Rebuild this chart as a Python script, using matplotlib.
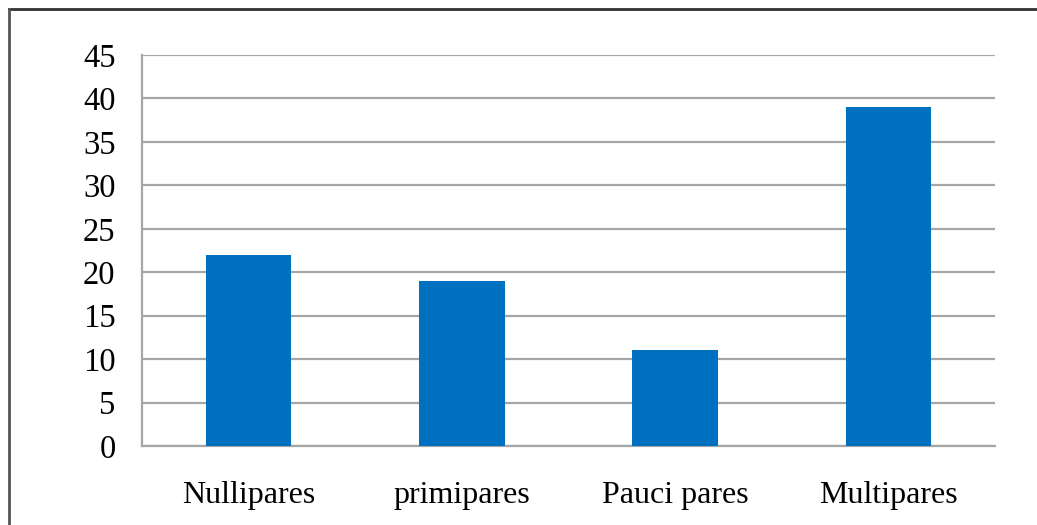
import matplotlib
matplotlib.use("Agg")
import matplotlib.pyplot as plt
from matplotlib.lines import Line2D

categories = ["Nullipares", "primipares", "Pauci pares", "Multipares"]
values = [22, 19, 11, 39]
yticks = [0, 5, 10, 15, 20, 25, 30, 35, 40, 45]

W, H = 1037, 525
fig = plt.figure(figsize=(W / 100, H / 100), dpi=100)
plt.rcParams["font.family"] = ["Liberation Serif", "DejaVu Serif"]

ax = fig.add_axes([142 / W, 1 - 446 / H, (995 - 142) / W, (446 - 55) / H])
x = range(len(categories))
ax.bar(x, values, width=0.4, color="#0070C0", zorder=3)

ax.set_xlim(-0.5, len(categories) - 0.5)
ax.set_ylim(0, 45)
ax.set_yticks(yticks)
ax.set_yticklabels([str(t) for t in yticks], fontsize=23.5)
ax.set_xticks(list(x))
ax.set_xticklabels(categories, fontsize=23)
ax.tick_params(axis="y", length=0, pad=19)
ax.tick_params(axis="x", length=0, pad=25)

ax.grid(axis="y", color="#a6a6a6", linewidth=1.6, zorder=0)
for side in ("top", "right"):
    ax.spines[side].set_visible(False)
ax.spines["left"].set_color("#a6a6a6")
ax.spines["left"].set_linewidth(1.6)
ax.spines["bottom"].set_color("#a6a6a6")
ax.spines["bottom"].set_linewidth(1.6)

# Frame around the chart (top and left edges visible)
fig.add_artist(Line2D([9 / W, 1.0], [1 - 9 / H, 1 - 9 / H], color="#333333", linewidth=2, transform=fig.transFigure))
fig.add_artist(Line2D([9 / W, 9 / W], [0.0, 1 - 9 / H], color="#555555", linewidth=2, transform=fig.transFigure))

fig.savefig("out.png", dpi=100, facecolor="white")
